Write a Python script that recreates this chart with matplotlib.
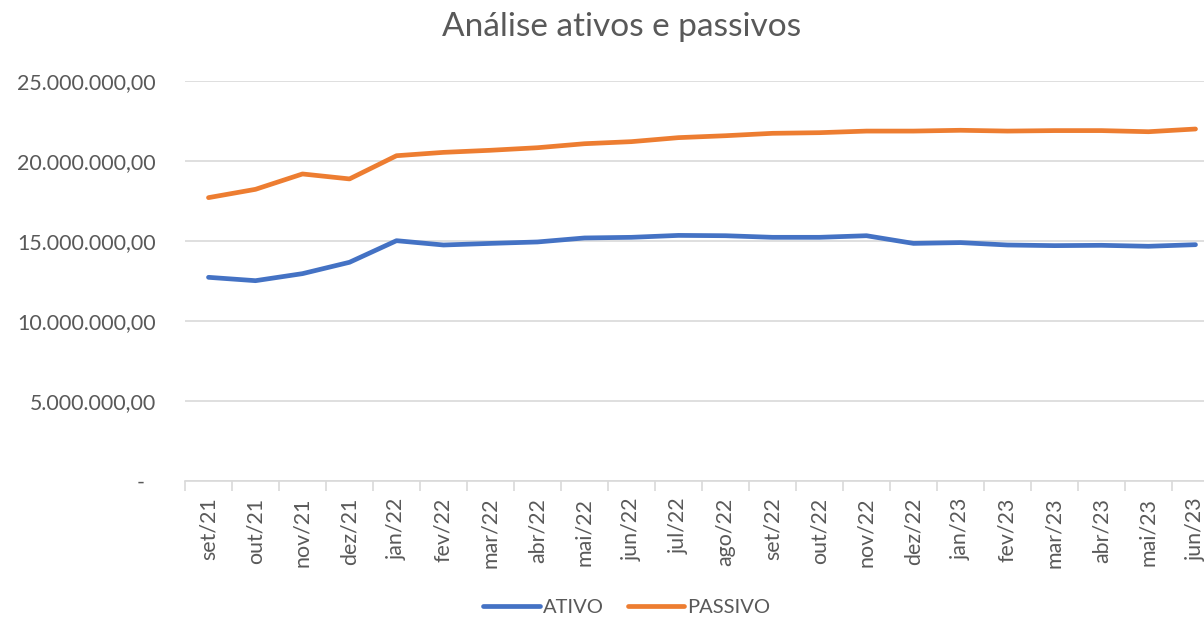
import matplotlib
matplotlib.use("Agg")
import matplotlib.pyplot as plt
from matplotlib.ticker import FuncFormatter, FixedLocator

categories = ["set/21", "out/21", "nov/21", "dez/21", "jan/22", "fev/22", "mar/22",
              "abr/22", "mai/22", "jun/22", "jul/22", "ago/22", "set/22", "out/22",
              "nov/22", "dez/22", "jan/23", "fev/23", "mar/23", "abr/23", "mai/23",
              "jun/23"]
ativo = [12.73e6, 12.52e6, 12.96e6, 13.67e6, 15.02e6, 14.75e6, 14.85e6, 14.94e6,
         15.19e6, 15.23e6, 15.35e6, 15.33e6, 15.23e6, 15.23e6, 15.33e6, 14.85e6,
         14.90e6, 14.75e6, 14.71e6, 14.73e6, 14.67e6, 14.77e6]
passivo = [17.71e6, 18.23e6, 19.19e6, 18.88e6, 20.33e6, 20.54e6, 20.67e6, 20.83e6,
           21.08e6, 21.21e6, 21.46e6, 21.58e6, 21.73e6, 21.77e6, 21.87e6, 21.87e6,
           21.92e6, 21.87e6, 21.90e6, 21.90e6, 21.83e6, 22.00e6]
y_ticks = [0, 5e6, 10e6, 15e6, 20e6, 25e6]

plt.rcParams['font.family'] = ['Lato', 'DejaVu Sans']
txt = '#595959'
grid = '#d9d9d9'

fig = plt.figure(figsize=(12.04, 6.17), dpi=100)
ax = fig.add_axes([185/1204, 1-481/617, 1034/1204, 400/617])

x = list(range(len(categories)))
ax.plot(x, ativo, color='#4472C4', lw=3.4, solid_capstyle='round', solid_joinstyle='round', label='ATIVO', zorder=3)
ax.plot(x, passivo, color='#ED7D31', lw=3.4, solid_capstyle='round', solid_joinstyle='round', label='PASSIVO', zorder=3)

ax.set_xlim(-0.5, len(categories) - 0.5)
ax.set_ylim(0, 25e6)
ax.set_yticks(y_ticks)

def fmt(v, pos):
    if v == 0:
        return "-  "
    s = f"{v:,.2f}"
    return s.replace(",", "X").replace(".", ",").replace("X", ".")
ax.yaxis.set_major_formatter(FuncFormatter(fmt))
ax.grid(axis='y', color=grid, lw=1.2, zorder=0)
ax.set_axisbelow(True)

ax.set_xticks(x)
ax.set_xticklabels(categories, rotation=90)
ax.xaxis.set_minor_locator(FixedLocator([i - 0.5 for i in range(len(categories) + 1)]))
ax.tick_params(axis='x', which='major', length=0, pad=12, labelsize=15.4, labelcolor=txt)
ax.tick_params(axis='x', which='minor', length=7, color=grid, width=1.2)
ax.tick_params(axis='y', length=0, pad=21, labelsize=15.4, labelcolor=txt)

for s in ['top', 'right', 'left']:
    ax.spines[s].set_visible(False)
ax.spines['bottom'].set_color(grid)
ax.spines['bottom'].set_linewidth(1.2)

fig.text(622/1204, 1-27/617, "Análise ativos e passivos", ha='center', va='center',
         fontsize=24, color=txt)

leg = fig.legend(loc='center', bbox_to_anchor=(627/1204, 1-607/617), ncol=2,
                 frameon=False, fontsize=14.5, handlelength=2.8, handletextpad=0.15,
                 columnspacing=1.2, labelcolor=txt)

fig.savefig("out.png", dpi=100)
